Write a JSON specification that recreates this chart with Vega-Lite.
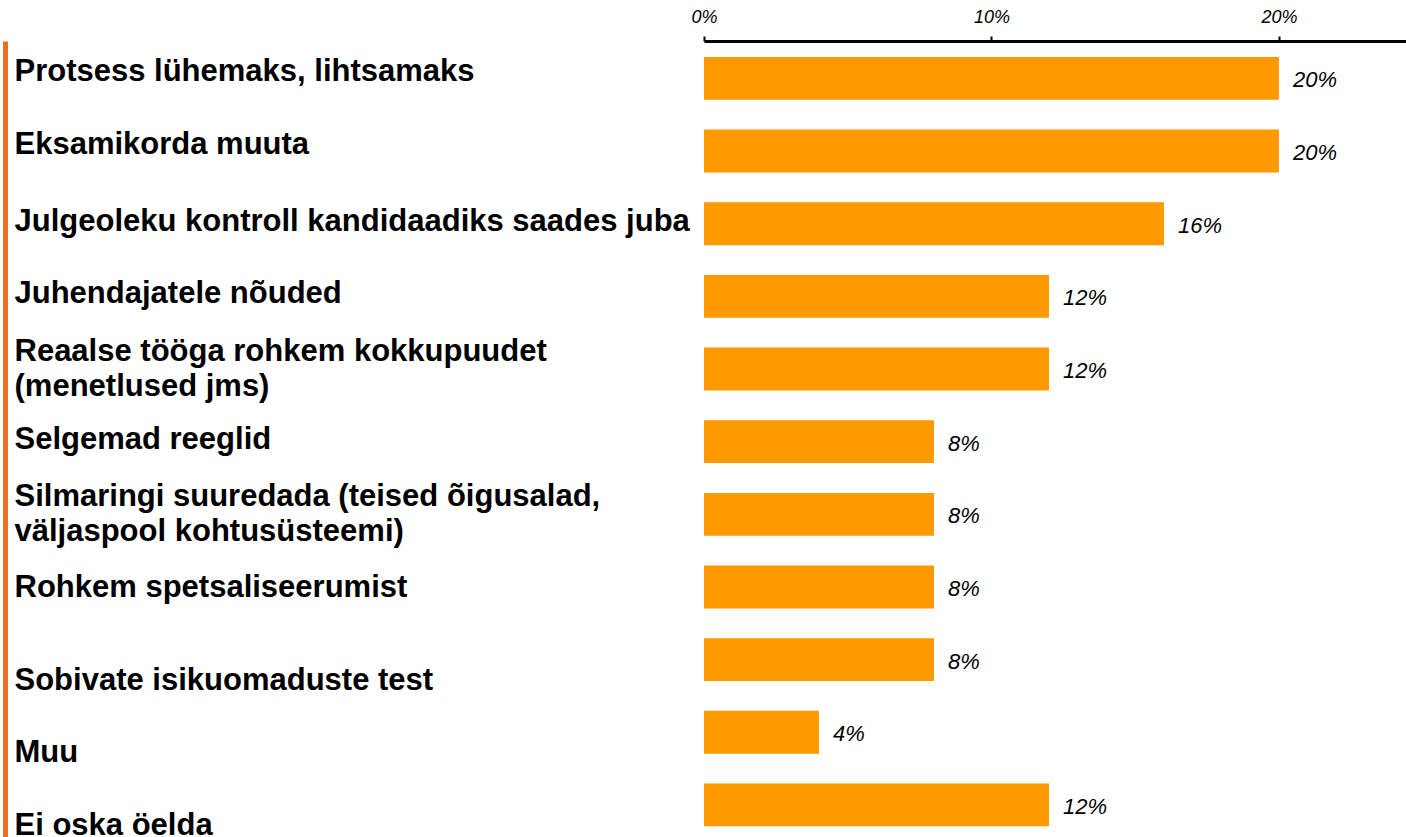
{
  "$schema": "https://vega.github.io/schema/vega-lite/v6.json",
  "autosize": "none",
  "padding": {"left": 704, "top": 41, "right": 0, "bottom": 0},
  "width": 702,
  "height": 796,
  "background": "white",
  "config": {"view": {"stroke": null}, "font": "Liberation Sans"},
  "data": {
    "values": [
      {"item": "Protsess lühemaks, lihtsamaks", "share": 0.20},
      {"item": "Eksamikorda muuta", "share": 0.20},
      {"item": "Julgeoleku kontroll kandidaadiks saades juba", "share": 0.16},
      {"item": "Juhendajatele nõuded", "share": 0.12},
      {"item": "Reaalse tööga rohkem kokkupuudet|(menetlused jms)", "share": 0.12},
      {"item": "Selgemad reeglid", "share": 0.08},
      {"item": "Silmaringi suuredada (teised õigusalad,|väljaspool kohtusüsteemi)", "share": 0.08},
      {"item": "Rohkem spetsaliseerumist", "share": 0.08},
      {"item": "Sobivate isikuomaduste test", "share": 0.08},
      {"item": "Muu", "share": 0.04},
      {"item": "Ei oska öelda", "share": 0.12}
    ]
  },
  "encoding": {
    "y": {
      "field": "item",
      "type": "nominal",
      "sort": null,
      "scale": {"paddingInner": 0.41, "paddingOuter": 0.183, "align": 0.6},
      "axis": {
        "title": null,
        "orient": "left",
        "offset": 699,
        "domain": true,
        "domainColor": "#E8701E",
        "domainWidth": 5,
        "ticks": false,
        "tickSize": 0,
        "labelAlign": "left",
        "labelBaseline": "middle",
        "labelPadding": -9,
        "labelLimit": 0,
        "labelFont": "Liberation Sans",
        "labelFontSize": 31,
        "labelFontWeight": "bold",
        "labelColor": "black",
        "labelLineHeight": 35,
        "labelOverlap": false,
        "labelExpr": "split(datum.label, '|')",
        "labelOffset": {
          "condition": [
            {"test": "indexof(['Sobivate isikuomaduste test','Muu','Ei oska öelda'], datum.value) >= 0", "value": 21},
            {"test": "indexof(['Protsess lühemaks, lihtsamaks','Eksamikorda muuta'], datum.value) >= 0", "value": -6},
            {"test": "indexof(datum.value, '|') >= 0", "value": -17},
            {"test": "datum.value == 'Rohkem spetsaliseerumist'", "value": 1}
          ],
          "value": -2
        }
      }
    }
  },
  "layer": [
    {
      "mark": {"type": "bar", "color": "#FF9900"},
      "encoding": {
        "x": {
          "field": "share",
          "type": "quantitative",
          "scale": {"domain": [0, 0.2442], "nice": false, "zero": true},
          "axis": {
            "orient": "top",
            "title": null,
            "values": [0, 0.1, 0.2],
            "format": ".0%",
            "grid": false,
            "domainColor": "black",
            "domainWidth": 3,
            "tickColor": "black",
            "tickWidth": 2,
            "tickSize": 5,
            "labelFont": "Liberation Sans",
            "labelFontSize": 18,
            "labelFontStyle": "italic",
            "labelColor": "black",
            "labelPadding": 10,
            "labelFlush": false
          }
        }
      }
    },
    {
      "mark": {"type": "text", "align": "left", "baseline": "middle", "dx": 14, "dy": 2, "fontSize": 22, "fontStyle": "italic", "font": "Liberation Sans", "color": "black"},
      "encoding": {
        "x": {"field": "share", "type": "quantitative"},
        "text": {"field": "share", "type": "quantitative", "format": ".0%"}
      }
    }
  ]
}
